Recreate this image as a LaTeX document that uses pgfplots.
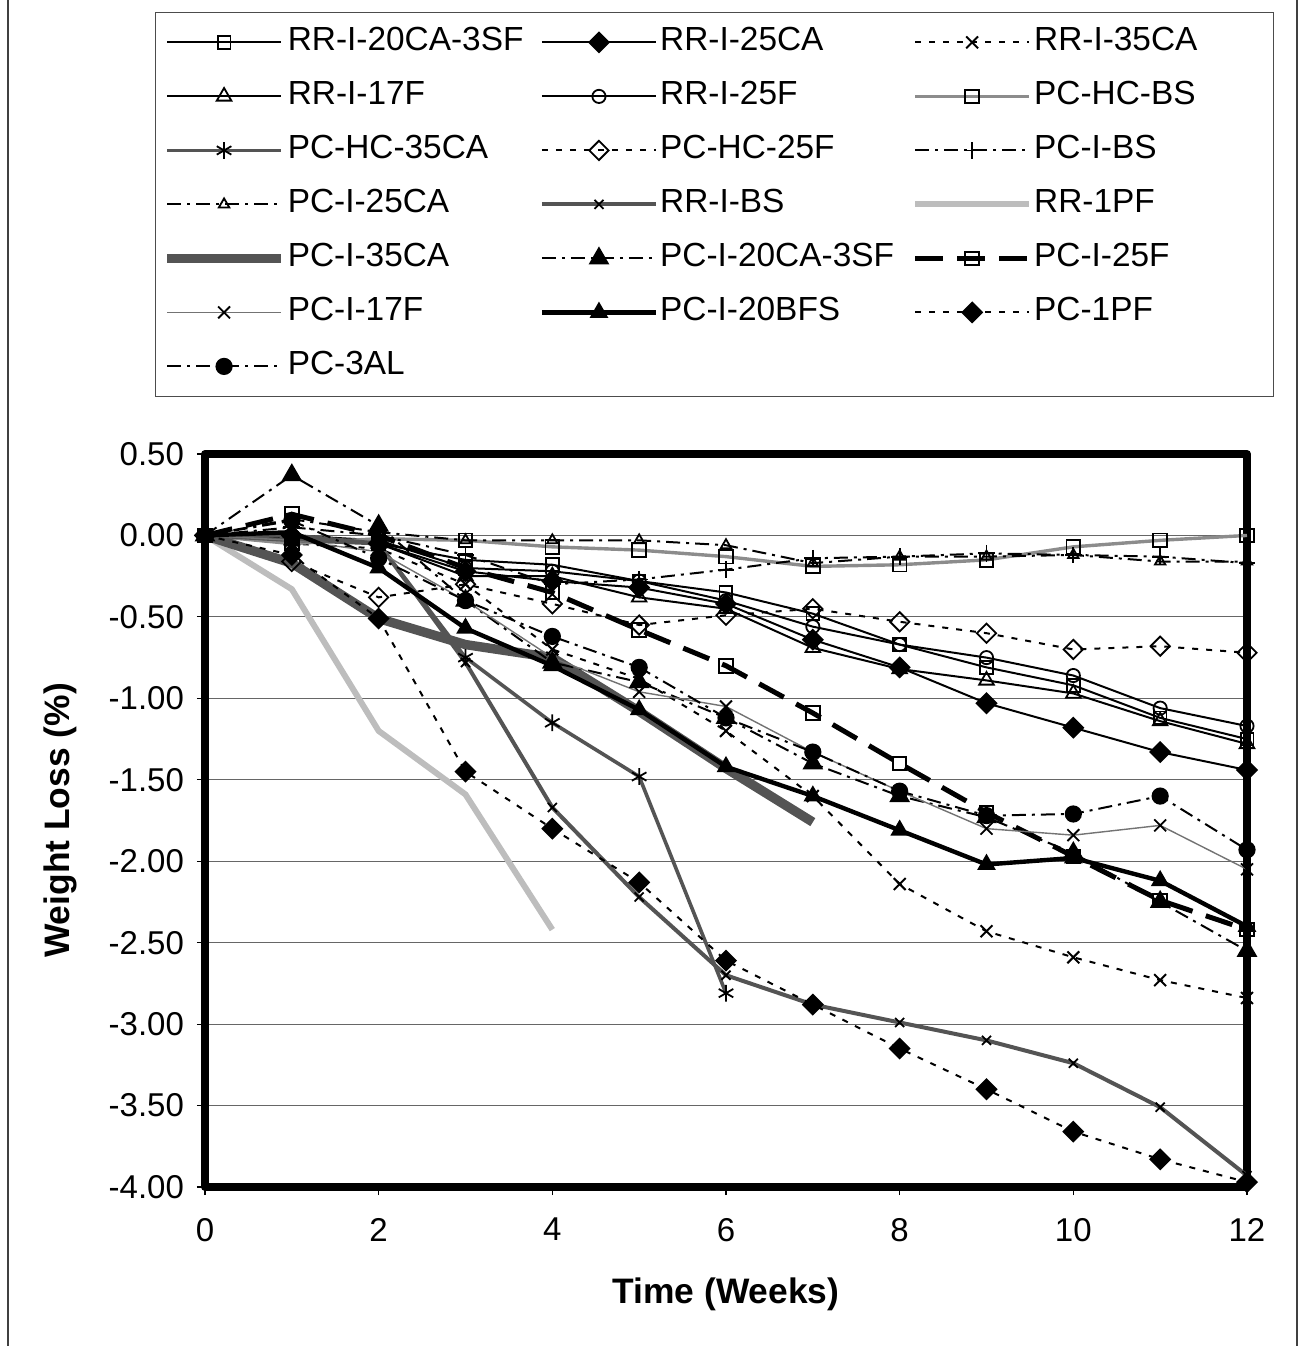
\documentclass[border=0pt]{standalone}
\usepackage{fontspec}
\setmainfont{Liberation Sans}
\usepackage{pgfplots}
\pgfplotsset{compat=1.18}
\definecolor{hcbs}{gray}{0.55}
\definecolor{dgray}{gray}{0.33}
\definecolor{lgray}{gray}{0.74}
\definecolor{mgray}{gray}{0.45}
\begin{document}
\begin{tikzpicture}
\useasboundingbox (-102.5pt,-79.5pt) rectangle (549pt,593.5pt);
\draw[line width=0.8pt, black!75] (-98.5pt,-90pt) -- (-98.5pt,600pt);
\draw[line width=0.8pt, black!75] (546pt,-90pt) -- (546pt,600pt);
\begin{axis}[
  at={(0,0)}, anchor=south west,
  scale only axis, width=521pt, height=366.5pt,
  xmin=0, xmax=12, ymin=-4, ymax=0.5,
  xtick={0,2,4,6,8,10,12},
  ytick={-4,-3.5,-3,-2.5,-2,-1.5,-1,-0.5,0,0.5},
  xtick pos=lower, ytick pos=left,
  tick align=outside, major tick length=4pt,
  tick style={black, line width=0.6pt},
  axis line style={line width=4pt, line join=round},
  ymajorgrids, grid style={black!60, line width=0.6pt},
  /pgf/number format/assume math mode=true,
  yticklabel style={/pgf/number format/.cd, fixed, fixed zerofill, precision=2, /tikz/.cd, xshift=-3pt},
  ticklabel style={font=\fontsize{16.5}{19}\selectfont},
  xticklabel style={yshift=-8pt},
  xlabel={\textbf{Time (Weeks)}},
  ylabel={\textbf{Weight Loss (\%)}},
  label style={font=\fontsize{17.7}{21}\selectfont},
  xlabel style={at={(axis description cs:0.5,-0.147)}, anchor=center},
  ylabel style={at={(axis description cs:-0.139,0.5)}, anchor=center},
  legend style={at={(-0.048,1.603)}, anchor=north west, draw=black!70, fill=white,
    inner xsep=3.5pt, inner ysep=1.5pt, row sep=0pt, column sep=0pt,
    font=\fontsize{16.7}{20}\selectfont,
    nodes={inner xsep=1pt, inner ysep=5.5pt, text height=12pt, text depth=4pt, anchor=west}},
  legend columns=3, legend cell align=left,
  legend image code/.code={\draw[mark repeat=2,mark phase=2,#1] plot coordinates {(0pt,0pt) (28.5pt,0pt) (57pt,0pt)};},
]
% 1 RR-I-20CA-3SF
\addplot[black, line width=1pt, mark=square, mark size=3.2pt, mark options={solid, fill=white, line width=0.9pt}]
coordinates {(0,0) (1,-0.02) (2,-0.05) (3,-0.15) (4,-0.18) (5,-0.28) (6,-0.35) (7,-0.48) (8,-0.67) (9,-0.81) (10,-0.92) (11,-1.12) (12,-1.25)};
\addlegendentry{\makebox[125pt][l]{RR-I-20CA-3SF}}
% 2 RR-I-25CA
\addplot[black, line width=1pt, mark=square*, mark size=3.4pt, mark options={solid, rotate=45}]
coordinates {(0,0) (1,0.0) (2,-0.05) (3,-0.22) (4,-0.28) (5,-0.32) (6,-0.42) (7,-0.64) (8,-0.81) (9,-1.03) (10,-1.18) (11,-1.33) (12,-1.44)};
\addlegendentry{\makebox[125pt][l]{RR-I-25CA}}
% 3 RR-I-35CA
\addplot[black, line width=1pt, dash pattern=on 3pt off 4pt, mark=x, mark size=4.2pt, mark options={solid, line width=1pt}]
coordinates {(0,0) (1,-0.05) (2,-0.08) (3,-0.30) (4,-0.70) (5,-0.88) (6,-1.20) (7,-1.60) (8,-2.14) (9,-2.43) (10,-2.59) (11,-2.73) (12,-2.84)};
\addlegendentry{\makebox[115pt][l]{RR-I-35CA}}
% 4 RR-I-17F
\addplot[black, line width=1pt, mark=triangle, mark size=4.2pt, mark options={solid, fill=white, line width=0.9pt}]
coordinates {(0,0) (1,-0.03) (2,-0.05) (3,-0.25) (4,-0.25) (5,-0.38) (6,-0.45) (7,-0.69) (8,-0.82) (9,-0.89) (10,-0.97) (11,-1.14) (12,-1.28)};
\addlegendentry{\makebox[125pt][l]{RR-I-17F}}
% 5 RR-I-25F
\addplot[black, line width=1pt, mark=o, mark size=3.3pt, mark options={solid, fill=white, line width=0.9pt}]
coordinates {(0,0) (1,0.0) (2,-0.03) (3,-0.20) (4,-0.22) (5,-0.28) (6,-0.40) (7,-0.56) (8,-0.67) (9,-0.75) (10,-0.86) (11,-1.06) (12,-1.17)};
\addlegendentry{\makebox[125pt][l]{RR-I-25F}}
% 6 PC-HC-BS
\addplot[hcbs, line width=1.7pt, mark=square, mark size=3.4pt, mark options={solid, black, fill=white, line width=0.9pt}]
coordinates {(0,0) (1,-0.05) (2,-0.02) (3,-0.03) (4,-0.07) (5,-0.09) (6,-0.13) (7,-0.19) (8,-0.18) (9,-0.15) (10,-0.07) (11,-0.03) (12,0.00)};
\addlegendentry{\makebox[115pt][l]{PC-HC-BS}}
% 7 PC-HC-35CA
\addplot[dgray, line width=1.8pt, mark=asterisk, mark size=4.2pt, mark options={solid, black, line width=0.9pt}]
coordinates {(0,0) (1,-0.03) (2,-0.05) (3,-0.75) (4,-1.15) (5,-1.48) (6,-2.81)};
\addlegendentry{\makebox[125pt][l]{PC-HC-35CA}}
% 8 PC-HC-25F
\addplot[black, line width=1pt, dash pattern=on 3pt off 4pt, mark=square, mark size=3.4pt, mark options={solid, rotate=45, fill=white, line width=0.9pt}]
coordinates {(0,0) (1,-0.16) (2,-0.38) (3,-0.30) (4,-0.42) (5,-0.55) (6,-0.49) (7,-0.45) (8,-0.53) (9,-0.60) (10,-0.70) (11,-0.68) (12,-0.72)};
\addlegendentry{\makebox[125pt][l]{PC-HC-25F}}
% 9 PC-I-BS
\addplot[black, line width=1pt, dash pattern=on 7pt off 3pt on 1.5pt off 3pt, mark=+, mark size=4.2pt, mark options={solid, line width=0.9pt}]
coordinates {(0,0) (1,0.05) (2,0.0) (3,-0.12) (4,-0.30) (5,-0.27) (6,-0.21) (7,-0.14) (8,-0.13) (9,-0.11) (10,-0.12) (11,-0.13) (12,-0.17)};
\addlegendentry{\makebox[115pt][l]{PC-I-BS}}
% 10 PC-I-25CA
\addplot[black, line width=1pt, dash pattern=on 7pt off 3pt on 1.5pt off 3pt, mark=triangle, mark size=3pt, mark options={solid, fill=white, line width=0.9pt}]
coordinates {(0,0) (1,0.10) (2,0.02) (3,-0.03) (4,-0.03) (5,-0.03) (6,-0.06) (7,-0.17) (8,-0.13) (9,-0.13) (10,-0.12) (11,-0.16) (12,-0.16)};
\addlegendentry{\makebox[125pt][l]{PC-I-25CA}}
% 11 RR-I-BS
\addplot[dgray, line width=2pt, mark=x, mark size=3.2pt, mark options={solid, black, line width=0.9pt}]
coordinates {(0,0) (1,0.0) (2,-0.05) (3,-0.78) (4,-1.67) (5,-2.22) (6,-2.70) (7,-2.88) (8,-2.99) (9,-3.10) (10,-3.24) (11,-3.51) (12,-3.93)};
\addlegendentry{\makebox[125pt][l]{RR-I-BS}}
% 12 RR-1PF
\addplot[lgray, line width=3pt]
coordinates {(0,0) (1,-0.33) (2,-1.20) (3,-1.59) (4,-2.42)};
\addlegendentry{\makebox[115pt][l]{RR-1PF}}
% 13 PC-I-35CA
\addplot[dgray, line width=4.7pt]
coordinates {(0,0) (1,-0.17) (2,-0.51) (3,-0.67) (4,-0.75) (5,-1.08) (6,-1.43) (7,-1.76)};
\addlegendentry{\makebox[125pt][l]{PC-I-35CA}}
% 14 PC-I-20CA-3SF
\addplot[black, line width=1pt, dash pattern=on 7pt off 3pt on 1.5pt off 3pt, mark=triangle*, mark size=5pt, mark options={solid}]
coordinates {(0,0) (1,0.37) (2,0.06) (3,-0.40) (4,-0.78) (5,-0.90) (6,-1.12) (7,-1.40) (8,-1.60) (9,-1.73) (10,-1.95) (11,-2.25) (12,-2.55)};
\addlegendentry{\makebox[125pt][l]{PC-I-20CA-3SF}}
% 15 PC-I-25F
\addplot[black, line width=2.5pt, dash pattern=on 14pt off 7pt, mark=square, mark size=3.4pt, mark options={solid, fill=white, line width=1pt}]
coordinates {(0,0) (1,0.13) (2,0.0) (3,-0.20) (4,-0.35) (5,-0.58) (6,-0.80) (7,-1.09) (8,-1.40) (9,-1.70) (10,-1.97) (11,-2.24) (12,-2.42)};
\addlegendentry{\makebox[115pt][l]{PC-I-25F}}
% 16 PC-I-17F
\addplot[mgray, line width=0.7pt, mark=x, mark size=4.2pt, mark options={solid, black, line width=0.9pt}]
coordinates {(0,0) (1,-0.03) (2,-0.10) (3,-0.40) (4,-0.75) (5,-0.96) (6,-1.05) (7,-1.33) (8,-1.57) (9,-1.80) (10,-1.84) (11,-1.78) (12,-2.05)};
\addlegendentry{\makebox[125pt][l]{PC-I-17F}}
% 17 PC-I-20BFS
\addplot[black, line width=2.2pt, mark=triangle*, mark size=3.2pt, mark options={solid}]
coordinates {(0,0) (1,0.02) (2,-0.20) (3,-0.57) (4,-0.80) (5,-1.07) (6,-1.42) (7,-1.60) (8,-1.81) (9,-2.02) (10,-1.98) (11,-2.12) (12,-2.40)};
\addlegendentry{\makebox[125pt][l]{PC-I-20BFS}}
% 18 PC-1PF
\addplot[black, line width=1pt, dash pattern=on 3pt off 4pt, mark=square*, mark size=3.4pt, mark options={solid, rotate=45}]
coordinates {(0,0) (1,-0.12) (2,-0.51) (3,-1.45) (4,-1.80) (5,-2.13) (6,-2.61) (7,-2.88) (8,-3.15) (9,-3.40) (10,-3.66) (11,-3.83) (12,-3.97)};
\addlegendentry{\makebox[115pt][l]{PC-1PF}}
% 19 PC-3AL
\addplot[black, line width=1pt, dash pattern=on 7pt off 3pt on 1.5pt off 3pt, mark=*, mark size=3.8pt, mark options={solid}]
coordinates {(0,0) (1,0.09) (2,-0.14) (3,-0.40) (4,-0.62) (5,-0.81) (6,-1.12) (7,-1.33) (8,-1.57) (9,-1.72) (10,-1.71) (11,-1.60) (12,-1.93)};
\addlegendentry{\makebox[125pt][l]{PC-3AL}}
\end{axis}
\end{tikzpicture}
\end{document}
